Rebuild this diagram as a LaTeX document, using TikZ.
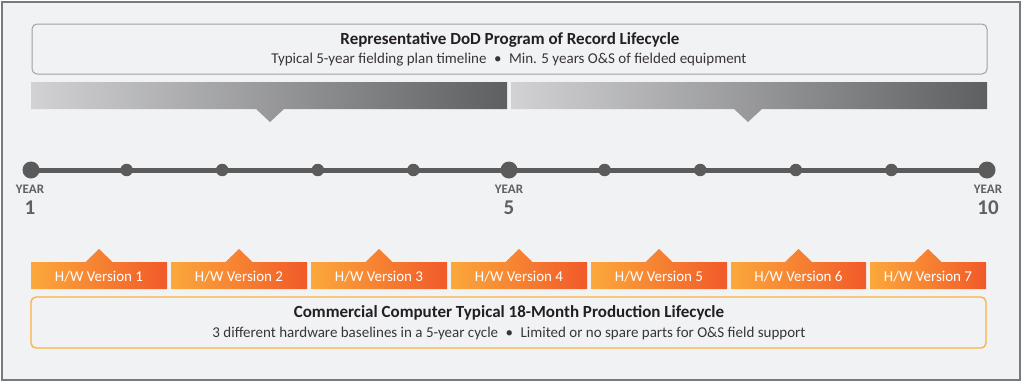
\documentclass[tikz,border=0pt]{standalone}
\usepackage{fontspec}
\setmainfont{Carlito}
\usetikzlibrary{calc}
\definecolor{bgc}{HTML}{F1F2F4}
\definecolor{framec}{HTML}{7A7A7A}
\definecolor{boxgray}{HTML}{A0A0A2}
\definecolor{barlight}{HTML}{D2D2D4}
\definecolor{bardark}{HTML}{5E5F61}
\definecolor{linec}{HTML}{5A5B5A}
\definecolor{yearc}{HTML}{606060}
\definecolor{orl}{HTML}{FBA83B}
\definecolor{ord}{HTML}{F15A29}
\definecolor{orbox}{HTML}{FBB040}
\definecolor{txt}{HTML}{231F20}
\tikzset{
  x=1pt, y=-1pt,
  bigdot/.style={circle, fill=linec, minimum size=17pt, inner sep=0pt},
  smalldot/.style={circle, fill=linec, minimum size=12.5pt, inner sep=0pt},
  yearlbl/.style={font=\fontsize{13}{14}\selectfont\bfseries, text=yearc, inner sep=0pt},
  yearnum/.style={font=\fontsize{21}{22}\selectfont\bfseries, text=yearc, inner sep=0pt},
  titletxt/.style={font=\fontsize{17}{18}\selectfont\bfseries, text=txt, inner sep=0pt},
  subtxt/.style={font=\fontsize{15}{16}\selectfont, text=txt!90, inner sep=0pt},
  hwtxt/.style={font=\fontsize{15}{16}\selectfont, text=white, inner sep=0pt},
  graybar/.style={left color=barlight, right color=bardark},
  orangetab/.style={left color=orl, right color=ord},
}
\begin{document}
\begin{tikzpicture}
\useasboundingbox (0,0) rectangle (1024,383);
% outer frame
\draw[framec, line width=1.5pt, fill=bgc] (2,2) rectangle (1020,380);
% top box
\draw[boxgray, line width=1pt, rounded corners=5pt, fill=bgc] (32,24) rectangle (987,74);
\node[titletxt] (toptitle) at (510,40) {Representative DoD Program of Record Lifecycle};
\node[subtxt] (topsub) at (509,60) {Typical 5-year fielding plan timeline\enspace•\enspace Min. 5 years O\&S of fielded equipment};
% gray bars with pointers
\shade[graybar] (31,82) -- (507,82) -- (507,109) -- (284,109) -- (270,122) -- (256,109) -- (31,109) -- cycle;
\shade[graybar] (511,82) -- (987,82) -- (987,109) -- (762,109) -- (748,122) -- (734,109) -- (511,109) -- cycle;
% timeline
\coordinate (tl) at (31,170);
\coordinate (tr) at (987,170);
\draw[linec, line width=5pt] (tl) -- (tr);
\node[bigdot] (d0) at (31,170) {};
\foreach \i in {1,...,4}{
  \node[smalldot] (d\i) at ({31+95.6*\i},170) {};
}
\node[bigdot] (d5) at (509,170) {};
\foreach \i in {6,...,9}{
  \node[smalldot] (d\i) at ({31+95.6*\i},170) {};
}
\node[bigdot] (d10) at (987,170) {};
% year labels
\node[yearlbl] (ya) at (30,189) {YEAR};
\node[yearnum] (na) at (30,208) {1};
\node[yearlbl] (yb) at (509,189) {YEAR};
\node[yearnum] (nb) at (509,208) {5};
\node[yearlbl] (yc) at (988,189) {YEAR};
\node[yearnum] (nc) at (988,208) {10};
% orange tabs
\foreach \a/\b/\n in {31/167/1, 171/307/2, 311/447/3, 451/587/4, 591/727/5, 731/866/6, 870/986/7}{
  \pgfmathsetmacro{\c}{(\a+\b)/2}
  \shade[orangetab] (\a,262) -- ({\c-13.5},262) -- (\c,249) -- ({\c+13.5},262) -- (\b,262) -- (\b,289) -- (\a,289) -- cycle;
  \node[hwtxt] (hw\n) at (\c,276.5) {H/W Version \n};
}
% bottom box
\draw[orbox, line width=1.3pt, rounded corners=5pt, fill=bgc] (31,297) rectangle (986,348);
\node[titletxt] (bottitle) at (509,313) {Commercial Computer Typical 18-Month Production Lifecycle};
\node[subtxt] (botsub) at (509,333) {3 different hardware baselines in a 5-year cycle\enspace•\enspace Limited or no spare parts for O\&S field support};
\end{tikzpicture}
\end{document}
